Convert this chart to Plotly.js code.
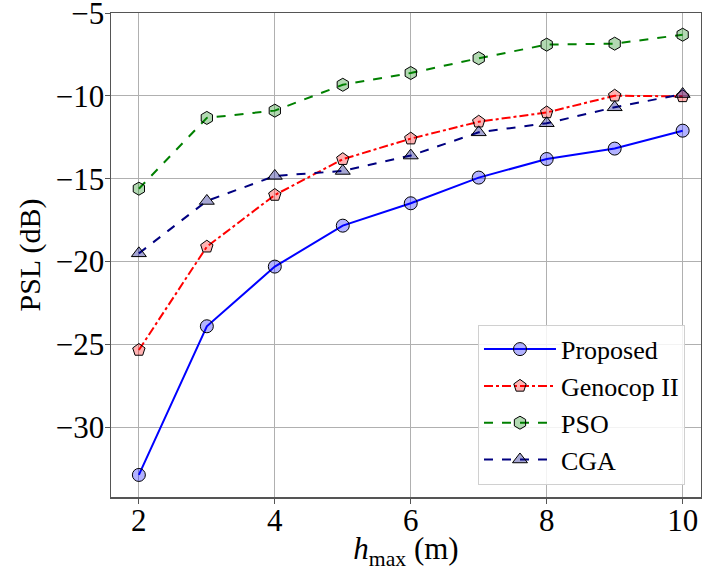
<!DOCTYPE html>
<html><head><meta charset="utf-8">
<script src="https://cdn.plot.ly/plotly-3.0.1.min.js"></script>
<style>html,body{margin:0;padding:0;overflow:hidden;background:#fff}</style>
</head><body><div id="c" style="width:702px;height:571px"></div>
<script>
const hmax = [2, 3, 4, 5, 6, 7, 8, 9, 10];
const proposed = [-32.87, -23.9, -20.3, -17.83, -16.48, -14.93, -13.81, -13.18, -12.1];
const genocop = [-25.33, -19.1, -15.98, -13.82, -12.58, -11.56, -11.0, -9.99, -10.03];
const pso = [-15.6, -11.33, -10.89, -9.33, -8.62, -7.73, -6.91, -6.85, -6.31];
const cga = [-19.5, -16.34, -14.83, -14.53, -13.6, -12.2, -11.65, -10.69, -9.89];
const names = ['Proposed', 'Genocop II', 'PSO', 'CGA'];
const xticks = [2, 4, 6, 8, 10];
const yticks = [-30, -25, -20, -15, -10, -5];

const font = 'Liberation Serif, DejaVu Serif, serif';
function tr(y, name, color, dash, sym, fill, size) {
  return {x: hmax, y: y, name: name, type: 'scatter', mode: 'lines+markers',
    line: {color: color, width: 2, dash: dash},
    marker: {symbol: sym, size: size, color: fill, line: {color: '#000', width: 1}}};
}
const data = [
  tr(proposed, names[0], '#0000ff', 'solid', 'circle', 'rgba(0,0,255,0.3)', 13),
  tr(genocop, names[1], '#ff0000', 'dashdot', 'pentagon', 'rgba(255,0,0,0.3)', 13),
  tr(pso, names[2], '#008000', 'dash', 'hexagon', 'rgba(0,128,0,0.3)', 13),
  tr(cga, names[3], '#000080', 'dash', 'triangle-up', 'rgba(0,0,128,0.35)', 13)
];
const layout = {
  width: 702, height: 571,
  margin: {l: 111, r: 1, t: 13, b: 74},
  paper_bgcolor: '#fff', plot_bgcolor: '#fff',
  font: {family: font, size: 31, color: '#000'},
  xaxis: {range: [1.59, 10.27], tickvals: xticks, ticktext: xticks.map(String),
    showgrid: true, gridcolor: '#b0b0b0', gridwidth: 1, zeroline: false,
    showline: true, linecolor: '#555', linewidth: 1.5, mirror: true,
    ticks: 'outside', ticklen: 5, tickcolor: '#555', ticklabelstandoff: -10,
    ticklabeloverflow: 'allow',
    title: {text: '<i>h</i><sub>max</sub> (m)', font: {size: 31}, standoff: 4}},
  yaxis: {range: [-34.2, -5.0], tickvals: yticks,
    ticktext: yticks.map(v => '\u2212' + Math.abs(v)),
    showgrid: true, gridcolor: '#b0b0b0', gridwidth: 1, zeroline: false,
    showline: true, linecolor: '#555', linewidth: 1.5, mirror: true,
    ticks: 'outside', ticklen: 5, tickcolor: '#555', ticklabelstandoff: -6,
    ticklabeloverflow: 'allow',
    title: {text: 'PSL (dB)', font: {size: 30}, standoff: 6}},
  legend: {x: 0.622, y: 0.356, xanchor: 'left', yanchor: 'top',
    bgcolor: 'rgba(255,255,255,0.85)', bordercolor: '#d0d0d0', borderwidth: 1,
    font: {size: 26, family: font}, itemwidth: 72, tracegroupgap: 0},
  showlegend: true
};
Plotly.newPlot('c', data, layout, {displayModeBar: false, staticPlot: true});
</script></body></html>
